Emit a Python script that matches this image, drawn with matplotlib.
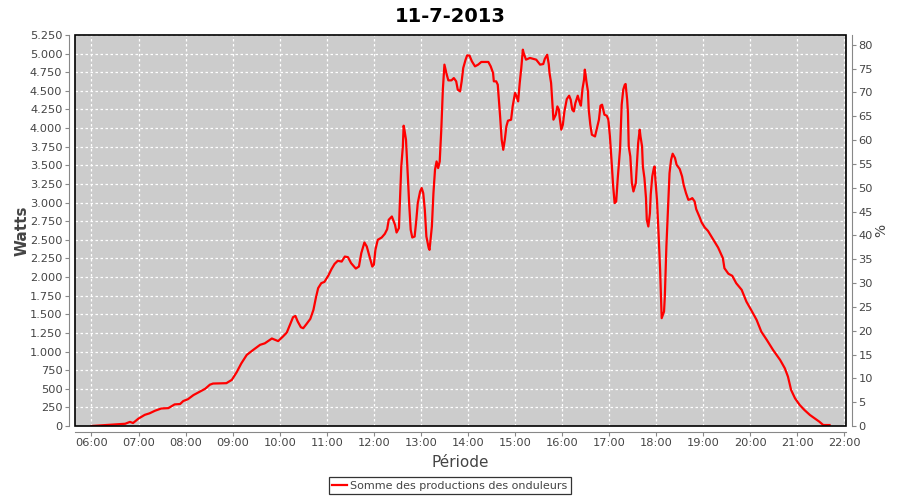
import matplotlib
matplotlib.use("Agg")
import matplotlib.pyplot as plt
import matplotlib.dates as mdates
from matplotlib.ticker import FuncFormatter, MultipleLocator
from matplotlib.patches import Rectangle
import pandas as pd

title = "11-7-2013"
day = "2013-07-11"
series_name = "Somme des productions des onduleurs"

times = [
    "06:00", "06:15", "06:32", "06:43", "06:49", "06:53", "07:00", "07:08", "07:14", "07:21",
    "07:29", "07:38", "07:46", "07:53", "07:57", "08:03", "08:10", "08:18", "08:25", "08:31",
    "08:35", "08:52", "08:59", "09:05", "09:11", "09:18", "09:26", "09:35", "09:41", "09:50",
    "09:58", "10:04", "10:09", "10:13", "10:17", "10:20", "10:23", "10:27", "10:30", "10:34",
    "10:39", "10:43", "10:46", "10:49", "10:53", "10:57", "11:02", "11:06", "11:10", "11:14",
    "11:19", "11:23", "11:27", "11:31", "11:37", "11:41", "11:44", "11:48", "11:51", "11:55",
    "11:58", "12:00", "12:02", "12:05", "12:10", "12:14", "12:17", "12:19", "12:23", "12:27",
    "12:29", "12:32", "12:33", "12:35", "12:37", "12:38", "12:39", "12:41", "12:42", "12:44",
    "12:45", "12:47", "12:49", "12:52", "12:54", "12:56", "12:59", "13:01", "13:03", "13:05",
    "13:07", "13:10", "13:11", "13:14", "13:16", "13:18", "13:20", "13:22", "13:24", "13:26",
    "13:28", "13:30", "13:31", "13:33", "13:35", "13:39", "13:42", "13:45", "13:47", "13:50",
    "13:52", "13:54", "13:57", "13:59", "14:02", "14:05", "14:09", "14:13", "14:17", "14:26",
    "14:29", "14:32", "14:33", "14:36", "14:38", "14:41", "14:43", "14:45", "14:47", "14:49",
    "14:51", "14:55", "14:57", "15:00", "15:02", "15:04", "15:06", "15:08", "15:10", "15:11",
    "15:14", "15:19", "15:27", "15:32", "15:36", "15:38", "15:41", "15:43", "15:44", "15:46",
    "15:48", "15:49", "15:52", "15:54", "15:56", "15:57", "15:59", "16:01", "16:03", "16:06",
    "16:09", "16:11", "16:13", "16:15", "16:17", "16:20", "16:22", "16:24", "16:26", "16:28",
    "16:29", "16:30", "16:31", "16:33", "16:34", "16:36", "16:38", "16:42", "16:44", "16:47",
    "16:49", "16:51", "16:54", "16:57", "16:59", "17:01", "17:03", "17:05", "17:07", "17:09",
    "17:11", "17:14", "17:16", "17:18", "17:20", "17:21", "17:23", "17:24", "17:25", "17:27",
    "17:29", "17:31", "17:34", "17:36", "17:37", "17:39", "17:40", "17:42", "17:43", "17:45",
    "17:47", "17:48", "17:50", "17:52", "17:53", "17:55", "17:57", "17:58", "17:59", "18:01",
    "18:03", "18:05", "18:06", "18:07", "18:10", "18:11", "18:13", "18:15", "18:17", "18:19",
    "18:21", "18:24", "18:26", "18:30", "18:33", "18:35", "18:38", "18:41", "18:44", "18:46",
    "18:49", "18:51", "18:55", "18:58", "19:02", "19:06", "19:13", "19:19", "19:25", "19:27",
    "19:32", "19:37", "19:42", "19:49", "19:55", "20:01", "20:08", "20:14", "20:21", "20:29",
    "20:38", "20:44", "20:48", "20:52", "20:57", "21:03", "21:09", "21:16", "21:22", "21:28",
    "21:33", "21:41",
]

watts = [
    0, 10, 20, 30, 55, 40, 100, 150, 170, 205,
    235, 240, 290, 295, 335, 360, 415, 460, 500, 555,
    570, 575, 620, 720, 840, 955, 1020, 1090, 1110, 1175,
    1140, 1200, 1254, 1357, 1461, 1478, 1402, 1326, 1313, 1367,
    1438, 1559, 1716, 1851, 1918, 1935, 2020, 2106, 2177, 2218,
    2208, 2275, 2267, 2187, 2114, 2141, 2321, 2464, 2410, 2254,
    2141, 2164, 2365, 2500, 2531, 2580, 2643, 2769, 2813, 2701,
    2598, 2657, 2947, 3485, 3754, 4032, 3978, 3844, 3642, 3216,
    2993, 2634, 2531, 2544, 2746, 2993, 3149, 3195, 3127, 2903,
    2544, 2388, 2365, 2679, 3127, 3441, 3552, 3463, 3552, 3978,
    4516, 4852, 4807, 4717, 4641, 4641, 4672, 4628, 4516, 4493,
    4628, 4807, 4919, 4977, 4973, 4897, 4829, 4852, 4888, 4888,
    4829, 4740, 4628, 4628, 4583, 4157, 3844, 3709, 3844, 4023,
    4099, 4113, 4291, 4472, 4426, 4359, 4606, 4807, 5053, 5009,
    4919, 4942, 4919, 4852, 4860, 4930, 4985, 4860, 4740, 4606,
    4291, 4113, 4180, 4291, 4247, 4135, 3978, 4045, 4224, 4390,
    4435, 4381, 4247, 4224, 4337, 4435, 4359, 4301, 4525, 4650,
    4785, 4717, 4628, 4493, 4247, 4045, 3911, 3888, 3978, 4113,
    4301, 4314, 4180, 4166, 4113, 3888, 3575, 3239, 2993, 3015,
    3329, 3732, 4314, 4516, 4583, 4592, 4381, 4202, 3754, 3620,
    3262, 3149, 3262, 3620, 3800, 3978, 3888, 3754, 3485, 3329,
    3060, 2769, 2679, 2859, 3105, 3351, 3463, 3485, 3306, 3037,
    2590, 2097, 1783, 1448, 1536, 1738, 2410, 2903, 3396, 3575,
    3656, 3598, 3508, 3450, 3351, 3239, 3127, 3037, 3046, 3060,
    3015, 2912, 2813, 2732, 2665, 2620, 2500, 2395, 2254, 2119,
    2045, 2016, 1918, 1828, 1671, 1559, 1425, 1267, 1156, 1021,
    887, 775, 663, 484, 372, 282, 215, 148, 103, 58,
    13, 13,
]

# right axis: percentage of installed peak power
peak_power = 6400
w_max = 5250

x = pd.to_datetime([f"{day} {t}" for t in times])

fig = plt.figure(figsize=(9, 5), dpi=100)
ax = fig.add_axes([75 / 900, 1 - 426 / 500, (846 - 75) / 900, (426 - 35) / 500])
ax.set_facecolor("#cccccc")

ax.plot(x, watts, color="#ff0000", lw=1.6, label=series_name, zorder=3)

ax.set_ylim(0, w_max)
ax.set_xlim(pd.Timestamp(f"{day} 05:39"), pd.Timestamp(f"{day} 22:02"))
ax.yaxis.set_major_locator(MultipleLocator(250))
ax.yaxis.set_major_formatter(FuncFormatter(lambda v, p: f"{int(v):,}".replace(",", ".")))
ax.xaxis.set_major_locator(mdates.HourLocator())
ax.xaxis.set_major_formatter(mdates.DateFormatter("%H:%M"))

ax.grid(True, color="white", ls=(0, (2, 2)), lw=0.9)
ax.set_axisbelow(True)

grey = "#888888"
txt = "#444444"
for s in ["top", "right"]:
    ax.spines[s].set_visible(False)
for s in ["left", "bottom"]:
    ax.spines[s].set_position(("outward", 4))
    ax.spines[s].set_color(grey)
ax.tick_params(axis="both", colors=grey, labelcolor=txt, labelsize=8.2, length=3, width=0.8, pad=2)

ax.add_patch(Rectangle((0, 0), 1, 1, transform=ax.transAxes, fill=False,
                       edgecolor="black", lw=1.2, zorder=5, clip_on=False))

ax2 = ax.twinx()
ax2.set_ylim(0, w_max / peak_power * 100)
ax2.yaxis.set_major_locator(MultipleLocator(5))
for s in ["top", "left", "bottom"]:
    ax2.spines[s].set_visible(False)
ax2.spines["right"].set_position(("outward", 4))
ax2.spines["right"].set_color(grey)
ax2.tick_params(axis="y", colors=grey, labelcolor=txt, labelsize=8.2, length=3, width=0.8, pad=2)
ax2.set_ylabel("%", color=txt, fontsize=10)
ax2.yaxis.set_label_coords(1.037, 0.5)

ax.set_ylabel("Watts", color=txt, fontsize=11, fontweight="bold")
ax.yaxis.set_label_coords(-0.059, 0.5)
ax.set_xlabel("Période", color=txt, fontsize=11)
ax.xaxis.set_label_coords(0.5, -0.075)
fig.suptitle(title, fontsize=14, fontweight="bold", y=0.985)

leg = fig.legend(handles=ax.get_lines(), loc="lower center", bbox_to_anchor=(0.5, 0.0),
                 frameon=True, fancybox=False, fontsize=8, handlelength=1.3,
                 handletextpad=0.3, borderpad=0.35)
leg.get_frame().set_edgecolor("black")
leg.get_frame().set_linewidth(0.9)
for t in leg.get_texts():
    t.set_color(txt)

fig.savefig("out.png", dpi=100)
